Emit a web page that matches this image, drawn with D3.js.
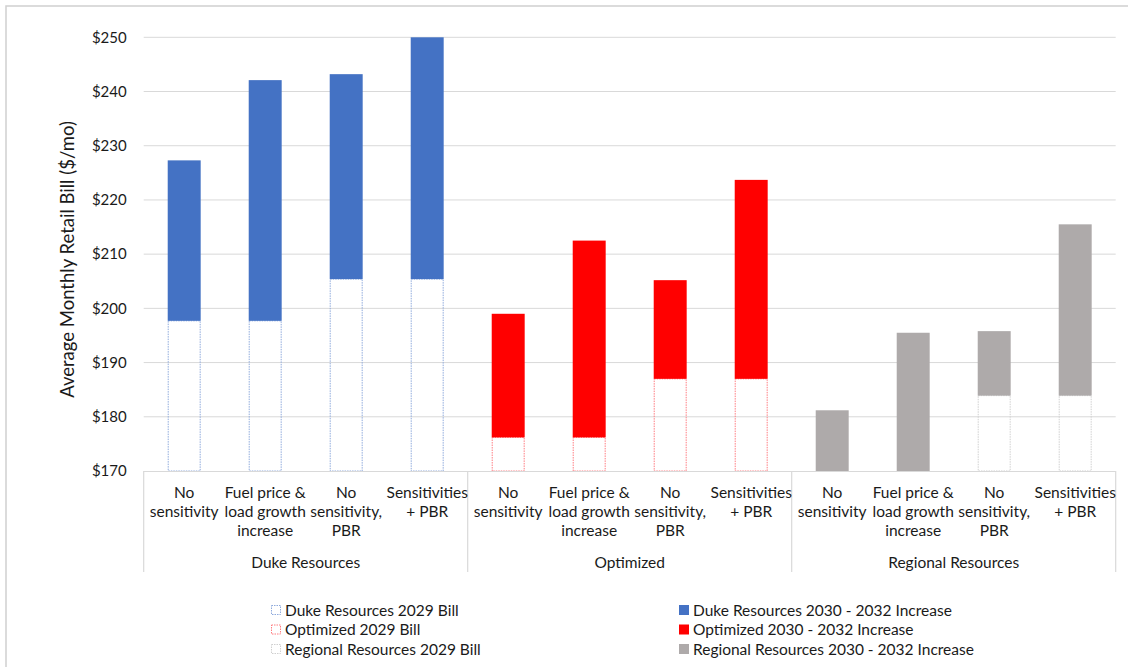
<!DOCTYPE html>
<html>
<head>
<meta charset="utf-8">
<script src="https://cdn.jsdelivr.net/npm/d3@7"></script>
<style>
  html, body { margin: 0; padding: 0; background: #fff; }
  svg { display: block; font-family: Lato, "Open Sans", sans-serif; }
</style>
</head>
<body>
<svg id="chart" width="1128" height="667"></svg>
<script>
// ---------- DATA ----------
const groups = ["Duke Resources", "Optimized", "Regional Resources"];
const scenarios = [
  ["No", "sensitivity"],
  ["Fuel price &", "load growth", "increase"],
  ["No", "sensitivity,", "PBR"],
  ["Sensitivities", "+ PBR"]
];
// 2029 bill ($/mo) per scenario
const dukeBill2029 = [197.7, 197.7, 205.4, 205.4];
const optimizedBill2029 = [176.2, 176.2, 187.0, 187.0];
const regionalBill2029 = [170.0, 170.0, 183.9, 183.9];
// 2030 - 2032 increase ($/mo) per scenario
const dukeIncrease = [29.6, 44.4, 37.8, 44.6];
const optimizedIncrease = [22.8, 36.3, 18.2, 36.7];
const regionalIncrease = [11.2, 25.5, 11.9, 31.6];
const yTicks = [170, 180, 190, 200, 210, 220, 230, 240, 250];
const legendBill = ["Duke Resources 2029 Bill", "Optimized 2029 Bill", "Regional Resources 2029 Bill"];
const legendIncrease = ["Duke Resources 2030 - 2032 Increase", "Optimized 2030 - 2032 Increase", "Regional Resources 2030 - 2032 Increase"];

// ---------- STYLE ----------
const fillColors = ["#4472C4", "#FF0000", "#AEAAAA"];
const outlineColors = ["#8FAADC", "#FF7C80", "#D0D0D0"];
const textColor = "#1a1a1a";
const fs = 15.5;

const bills = [dukeBill2029, optimizedBill2029, regionalBill2029];
const incs = [dukeIncrease, optimizedIncrease, regionalIncrease];
const rows = [];
groups.forEach((g, gi) => {
  scenarios.forEach((s, si) => {
    rows.push({ key: gi + "-" + si, group: gi, lines: s, bill: bills[gi][si], inc: incs[gi][si] });
  });
});

const svg = d3.select("#chart");
const pLeft = 143.7, pRight = 1115.7, pTop = 37.3, pBottom = 471;

// outer border
svg.append("rect").attr("x", 6).attr("y", 6).attr("width", 1140).attr("height", 680)
  .attr("fill", "none").attr("stroke", "#D0D0D0").attr("stroke-width", 1.5);

const x = d3.scaleBand().domain(rows.map(d => d.key)).range([pLeft, pRight])
  .paddingInner(0.593).paddingOuter(0.2965);
const y = d3.scaleLinear().domain([170, 250]).range([pBottom, pTop]);

// gridlines
svg.append("g").selectAll("line").data(yTicks.slice(1)).join("line")
  .attr("x1", pLeft).attr("x2", pRight)
  .attr("y1", d => y(d)).attr("y2", d => y(d))
  .attr("stroke", "#D9D9D9").attr("stroke-width", 1);

// y axis labels
const yAxis = d3.axisLeft(y).tickValues(yTicks).tickFormat(d => "$" + d).tickSize(0).tickPadding(17);
const yg = svg.append("g").attr("transform", `translate(${pLeft},0)`).call(yAxis);
yg.select(".domain").remove();
yg.selectAll("text").attr("font-size", 15).attr("fill", textColor).attr("font-family", "Lato, sans-serif");

// y title
svg.append("text")
  .attr("transform", `translate(73.5,259.5) rotate(-90)`)
  .attr("text-anchor", "middle")
  .attr("font-size", 18.5).attr("fill", textColor)
  .text("Average Monthly Retail Bill ($/mo)");

// bars: 2029 bill segment (outline only)
svg.append("g").selectAll("rect").data(rows).join("rect")
  .attr("x", d => x(d.key) + 0.5)
  .attr("y", d => y(d.bill))
  .attr("width", x.bandwidth() - 1)
  .attr("height", d => y(170) - y(d.bill))
  .attr("fill", "none")
  .attr("stroke", d => outlineColors[d.group])
  .attr("stroke-width", 1)
  .attr("stroke-dasharray", "1.5,1");

// bars: increase segment
svg.append("g").selectAll("rect").data(rows).join("rect")
  .attr("x", d => x(d.key))
  .attr("y", d => y(d.bill + d.inc))
  .attr("width", x.bandwidth())
  .attr("height", d => y(d.bill) - y(d.bill + d.inc))
  .attr("fill", d => fillColors[d.group]);

// x axis line
svg.append("line").attr("x1", pLeft).attr("x2", pRight).attr("y1", pBottom + 0.5).attr("y2", pBottom + 0.5)
  .attr("stroke", "#D9D9D9").attr("stroke-width", 1);

// group separators
const groupEdges = [0, 4, 8].map(i => x(rows[i].key) - x.step() * x.paddingInner() / 2).concat([pRight]);
svg.append("g").selectAll("line").data(groupEdges).join("line")
  .attr("x1", d => d).attr("x2", d => d)
  .attr("y1", pBottom).attr("y2", 572)
  .attr("stroke", "#D9D9D9").attr("stroke-width", 1.2);

// category labels
const catG = svg.append("g");
rows.forEach(d => {
  const cx = x(d.key) + x.bandwidth() / 2;
  const t = catG.append("text").attr("text-anchor", "middle").attr("font-size", fs).attr("fill", textColor);
  d.lines.forEach((ln, i) => {
    t.append("tspan").attr("x", cx).attr("y", 497.5 + i * 19.4).text(ln);
  });
});

// group labels
svg.append("g").selectAll("text").data(groups).join("text")
  .attr("x", (d, i) => (groupEdges[i] + groupEdges[i + 1]) / 2)
  .attr("y", 567.5)
  .attr("text-anchor", "middle").attr("font-size", fs).attr("fill", textColor)
  .text(d => d);

// legend
const legY = [610, 629.5, 649];
const lg1 = svg.append("g");
legendBill.forEach((t, i) => {
  lg1.append("rect").attr("x", 271.5).attr("y", legY[i] - 4.5).attr("width", 9).attr("height", 9)
    .attr("fill", "none").attr("stroke", outlineColors[i]).attr("stroke-width", 1).attr("stroke-dasharray", "1.5,1");
  lg1.append("text").attr("x", 285).attr("y", legY[i] + 5.5).attr("font-size", fs).attr("fill", textColor).text(t);
});
const lg2 = svg.append("g");
legendIncrease.forEach((t, i) => {
  lg2.append("rect").attr("x", 679).attr("y", legY[i] - 5).attr("width", 10).attr("height", 10)
    .attr("fill", fillColors[i]);
  lg2.append("text").attr("x", 693).attr("y", legY[i] + 5.5).attr("font-size", fs).attr("fill", textColor).text(t);
});
</script>
</body>
</html>
